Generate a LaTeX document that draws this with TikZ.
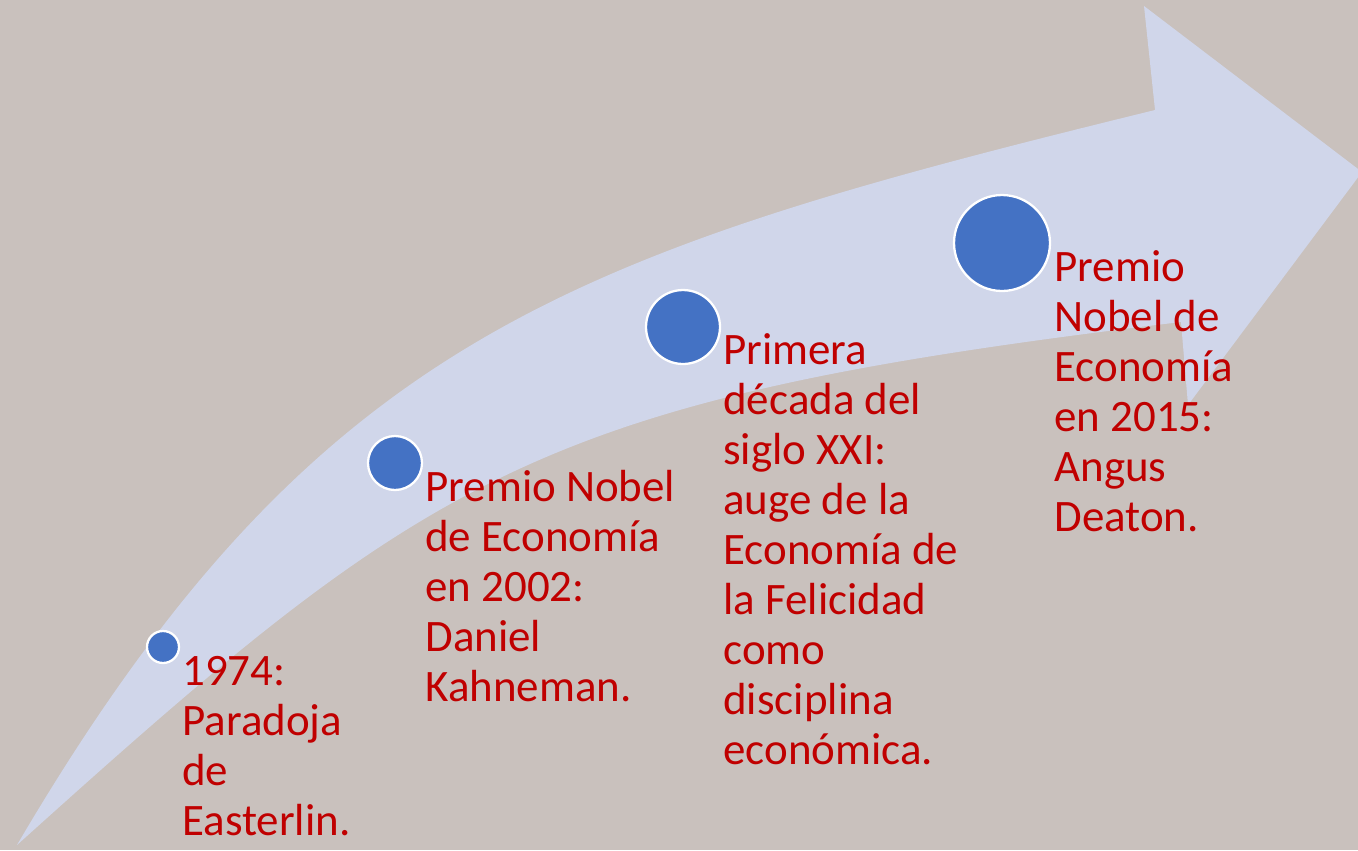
\documentclass[tikz,border=0pt]{standalone}
\usepackage{fontspec}
\setmainfont{Carlito}
\usepackage{xcolor}
\definecolor{papel}{RGB}{201,193,189}
\definecolor{flecha}{RGB}{208,214,234}
\definecolor{punto}{RGB}{68,114,196}
\definecolor{rojo}{RGB}{192,0,0}

\begin{document}
\begin{tikzpicture}[x=0.02cm,y=-0.02cm]
\tikzset{hito/.style={circle,fill=punto,draw=white,line width=1.3pt,inner sep=0pt}}
\tikzset{rotulo/.style={anchor=north west,inner sep=0pt,align=left,text=rojo,
  font=\fontsize{25.6}{28.45}\selectfont}}

\fill[papel] (0,0) rectangle (1358,850);
\useasboundingbox (0,0) rectangle (1358,850);

% flecha curva
\fill[flecha] (17,845) .. controls (316,336) and (572,253) .. (1155,110)
  -- (1144,6) -- (1362,172) -- (1188,405) -- (1181,322)
  .. controls (536,399) and (433,470) .. (17,845) -- cycle;

\node[hito,minimum size=0.64cm] (c1974) at (163,647) {};
\node[hito,minimum size=1.08cm] (c2002) at (395,463) {};
\node[hito,minimum size=1.48cm] (c2000) at (683,327) {};
\node[hito,minimum size=1.92cm] (c2015) at (1002,243) {};

\node[rotulo] (t1974) at (182,656) {1974:\\Paradoja\\de\\Easterlin.};
\node[rotulo] (t2002) at (425,470) {Premio Nobel\\de Economía\\en 2002:\\Daniel\\Kahneman.};
\node[rotulo] (t2000) at (723,333) {Primera\\década del\\siglo XXI:\\auge de la\\Economía de\\la Felicidad\\como\\disciplina\\económica.};
\node[rotulo] (t2015) at (1054,250) {Premio\\Nobel de\\Economía\\en 2015:\\Angus\\Deaton.};

\end{tikzpicture}
\end{document}
